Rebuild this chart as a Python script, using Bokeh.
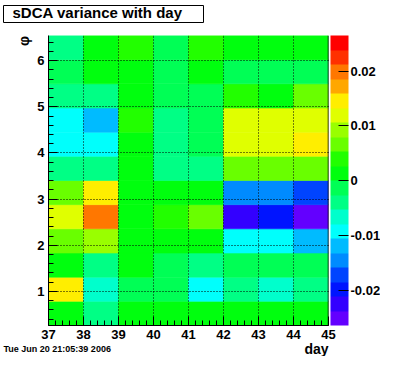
import colorsys
from bokeh.plotting import figure
from bokeh.models import (ColumnDataSource, LinearColorMapper, ColorBar, FixedTicker,
                          SingleIntervalTicker, Span, Range1d, CustomJSTickFormatter)
from bokeh.transform import transform
from bokeh.embed import file_html
from bokeh.resources import INLINE

# ---------------- data ----------------
days = [37, 38, 39, 40, 41, 42, 43, 44]
phi_centers = [0.5236, 1.0472, 1.5708, 2.0944, 2.6180, 3.1416,
               3.6652, 4.1888, 4.7124, 5.2360, 5.7596, 6.2832]
phi_bin_width = 0.5236

# sDCA variance per phi bin (bottom -> top) for each day
day37 = [0.0012, 0.0145, 0.0015, 0.0068, 0.0120, 0.0064, -0.0041, -0.0093, -0.0090, -0.0038, -0.0012, -0.0042]
day38 = [-0.0039, -0.0067, -0.0040, 0.0092, 0.0197, 0.0148, -0.0042, -0.0091, -0.0120, -0.0041, 0.0013, 0.0011]
day39 = [0.0014, -0.0012, 0.0012, 0.0013, 0.0016, 0.0011, 0.0014, 0.0012, 0.0041, 0.0013, 0.0010, 0.0039]
day40 = [0.0012, -0.0014, -0.0011, 0.0014, 0.0042, 0.0012, -0.0039, -0.0041, -0.0038, -0.0013, -0.0015, -0.0012]
day41 = [0.0013, -0.0091, -0.0042, 0.0011, 0.0065, 0.0015, -0.0040, -0.0013, -0.0014, -0.0012, 0.0012, 0.0038]
day42 = [0.0014, -0.0039, -0.0013, -0.0093, -0.0226, -0.0146, 0.0067, 0.0118, 0.0120, 0.0040, -0.0012, 0.0013]
day43 = [0.0012, -0.0065, -0.0014, -0.0092, -0.0199, -0.0144, 0.0065, 0.0121, 0.0118, 0.0015, -0.0013, 0.0012]
day44 = [0.0013, -0.0041, -0.0012, -0.0118, -0.0250, -0.0171, 0.0066, 0.0147, 0.0119, 0.0067, -0.0011, 0.0014]
columns = [day37, day38, day39, day40, day41, day42, day43, day44]

z_low = -0.0264
z_high = 0.0265
cbar_ticks = [-0.02, -0.01, 0.0, 0.01, 0.02]

title_text = "sDCA variance with day"
x_title = "day"
y_title = "φ"
date_text = "Tue Jun 20 21:05:39 2006"

# ---------------- palette (ROOT pretty palette, 20 levels) ----------------
def root_color(k, n=20):
    idx = int((k + 0.99) * 50 / n)
    hue = max(0.0, 280.0 - (idx + 1) * 5.6)
    r, g, b = colorsys.hls_to_rgb(hue / 360.0, 0.5, 1.0)
    return "#%02x%02x%02x" % (round(r * 255), round(g * 255), round(b * 255))

palette = [root_color(k) for k in range(20)]
mapper = LinearColorMapper(palette=palette, low=z_low, high=z_high)

xs, ys, zs = [], [], []
for d, col in zip(days, columns):
    for phi, z in zip(phi_centers, col):
        xs.append(d + 0.5)
        ys.append(phi)
        zs.append(z)
src = ColumnDataSource(dict(x=xs, y=ys, z=zs))

x_lo, x_hi = days[0], days[-1] + 1
y_lo = phi_centers[0] - phi_bin_width / 2
y_hi = phi_centers[-1] + phi_bin_width / 2

W, H = 380, 356
FL, FR, FT, FB = 48, 328, 35, 325          # frame edges in canvas pixels
FONT = "Liberation Sans"

p = figure(width=W, height=H, x_range=Range1d(x_lo, x_hi),
           y_range=Range1d(y_lo, y_hi), output_backend="svg", toolbar_location=None,
           min_border_left=FL, min_border_right=W - FR, min_border_top=FT,
           min_border_bottom=H - FB)
p.title.text = ""
p.outline_line_color = None
p.background_fill_color = "white"
p.border_fill_color = "white"

p.rect(x="x", y="y", width=1, height=phi_bin_width, source=src,
       fill_color=transform("z", mapper), line_color=transform("z", mapper), line_width=0.6)

xt = SingleIntervalTicker(interval=1, num_minor_ticks=5)
yt = SingleIntervalTicker(interval=1, num_minor_ticks=5)
p.xaxis.ticker = xt
p.yaxis.ticker = yt
p.xgrid.ticker = xt
p.ygrid.ticker = yt

for ax in (p.xaxis[0], p.yaxis[0]):
    ax.major_tick_in = 9
    ax.major_tick_out = 0
    ax.minor_tick_in = 5
    ax.minor_tick_out = 0
    ax.major_tick_line_color = "black"
    ax.minor_tick_line_color = "black"
    ax.axis_line_color = "black"
    ax.major_label_text_font = FONT
    ax.major_label_text_font_style = "bold"
    ax.major_label_text_font_size = "13px"
    ax.major_label_text_color = "black"
    ax.major_label_standoff = 4

p.grid.grid_line_color = "black"
p.grid.grid_line_dash = "1 2"
p.grid.grid_line_width = 1
p.grid.level = "overlay"

p.add_layout(Span(location=x_hi, dimension="height", line_color="black", line_width=1.5))

cb = ColorBar(color_mapper=mapper, location=(FR - FL + 2, 0), width=18, height=FB - FT,
              padding=0, margin=0,
              ticker=FixedTicker(ticks=cbar_ticks),
              formatter=CustomJSTickFormatter(code="return tick == 0 ? '0' : tick.toFixed(2);"),
              major_tick_in=10, major_tick_out=0, major_tick_line_color="black",
              minor_tick_line_color=None,
              label_standoff=2, major_label_text_font=FONT, major_label_text_font_style="bold",
              major_label_text_font_size="13px", major_label_text_color="black",
              bar_line_color=None, border_line_color=None, background_fill_color=None)
p.add_layout(cb, "center")

# --- free texts / box outside the frame, drawn with (unclipped) colour-bar annotations ---
def free_box(left, top, width, height):
    box = ColorBar(color_mapper=mapper, orientation="horizontal",
                   location=(left - FL, FB - top - height),
                   width=width, height=height, padding=0, margin=0, scale_alpha=0,
                   ticker=FixedTicker(ticks=[]), major_tick_line_color=None,
                   minor_tick_line_color=None, major_label_text_font_size="1px",
                   bar_line_color=None, border_line_color="black", border_line_width=1,
                   background_fill_color="white")
    p.add_layout(box, "center")

def free_text(text, left, top, size, orientation="horizontal", h=None):
    if h is None:
        h = round(size * 1.15) + 1
    t = ColorBar(color_mapper=mapper, orientation=orientation,
                 location=(left - FL, FB - top - h),
                 width=1, height=1, padding=0, margin=0, scale_alpha=0,
                 title=text, title_standoff=0, title_text_font=FONT,
                 title_text_font_style="bold", title_text_font_size="%dpx" % size,
                 title_text_color="black",
                 ticker=FixedTicker(ticks=[]), major_tick_line_color=None,
                 minor_tick_line_color=None, major_label_text_font_size="1px",
                 bar_line_color=None, border_line_color=None, background_fill_color=None)
    p.add_layout(t, "center")

free_box(3, 5, 200, 17)
free_text(title_text, 12, 3.5, 15)
free_text(y_title, 13, 35.5, 14, orientation="vertical", h=10)
free_text(x_title, FR - 24, 340, 14)
free_text(date_text, 3, 343, 9)

open("out.html", "w").write(file_html(p, INLINE))
